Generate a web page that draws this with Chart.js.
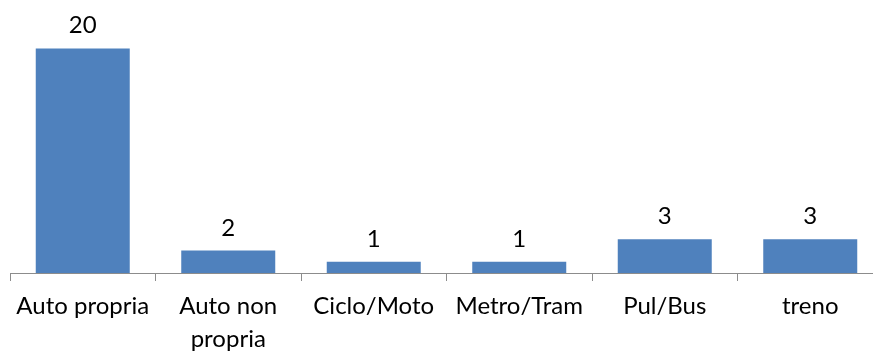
<!DOCTYPE html>
<html>
<head>
<meta charset="utf-8">
<script src="https://cdn.jsdelivr.net/npm/chart.js@4/dist/chart.umd.min.js"></script>
<style>
  html, body { margin: 0; padding: 0; background: #fff; overflow: hidden; }
  #wrap { width: 883px; height: 351px; }
</style>
</head>
<body>
<div id="wrap"><canvas id="c" width="883" height="351"></canvas></div>
<script>
// Mezzo di trasporto utilizzato
const categories = [
  "Auto propria",
  ["Auto non", "propria"],
  "Ciclo/Moto",
  "Metro/Tram",
  "Pul/Bus",
  "treno"
];
const values = [20, 2, 1, 1, 3, 3];

const FONT = "Lato, 'Open Sans', sans-serif";

// Writes each bar's value centred above it
const valueLabels = {
  id: "valueLabels",
  afterDatasetsDraw(chart) {
    const ctx = chart.ctx;
    const meta = chart.getDatasetMeta(0);
    ctx.save();
    ctx.font = "24px " + FONT;
    ctx.fillStyle = "#000";
    ctx.textAlign = "center";
    ctx.textBaseline = "alphabetic";
    meta.data.forEach((bar, i) => {
      ctx.fillText(String(values[i]), bar.x, bar.y - 15);
    });
    ctx.restore();
  }
};

new Chart(document.getElementById("c"), {
  type: "bar",
  data: {
    labels: categories,
    datasets: [{
      data: values,
      backgroundColor: "#4F81BD",
      borderWidth: 0,
      categoryPercentage: 1,
      barPercentage: 0.646
    }]
  },
  options: {
    responsive: false,
    animation: false,
    layout: { padding: { left: 10, right: 0, top: 3.5, bottom: 0 } },
    plugins: { legend: { display: false }, tooltip: { enabled: false } },
    scales: {
      x: {
        offset: true,
        grid: {
          offset: true,
          drawOnChartArea: false,
          drawTicks: true,
          tickLength: 8,
          color: "#8C8C8C",
          lineWidth: 1
        },
        border: { display: true, color: "#8C8C8C", width: 1 },
        ticks: {
          color: "#000",
          padding: 9,
          maxRotation: 0,
          autoSkip: false,
          font: { family: FONT, size: 24, lineHeight: "33px" }
        },
        afterFit(scale) { scale.height = 78; }
      },
      y: {
        display: false,
        min: 0,
        max: 24
      }
    }
  },
  plugins: [valueLabels]
});
</script>
</body>
</html>
